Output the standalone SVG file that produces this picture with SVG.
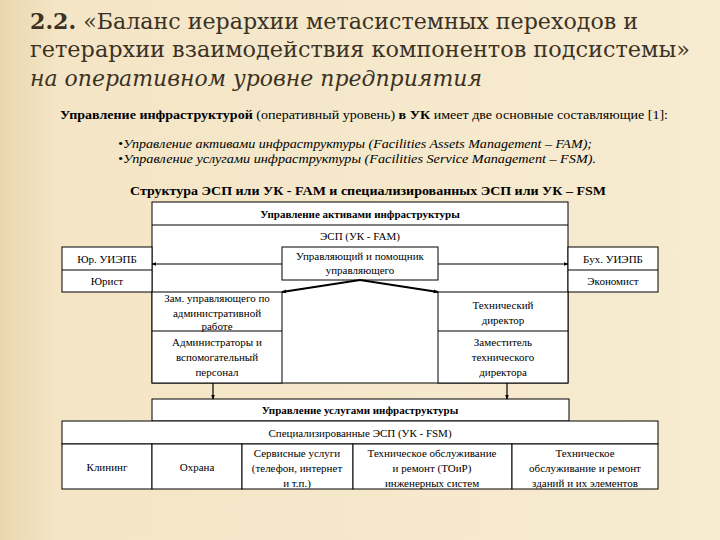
<svg xmlns="http://www.w3.org/2000/svg" width="720" height="540" viewBox="0 0 720 540">
<defs>
<linearGradient id="bg" x1="0" y1="0" x2="1" y2="0">
<stop offset="0" stop-color="#ead7b0"/>
<stop offset="0.08" stop-color="#f4e5c6"/>
<stop offset="1" stop-color="#f7ebd0"/>
</linearGradient>
<marker id="ah" viewBox="0 0 8 8" refX="7" refY="4" markerWidth="5" markerHeight="5" orient="auto" markerUnits="userSpaceOnUse">
<path d="M0,1 L8,4 L0,7 Z" fill="#000"/>
</marker>
<style>
.ttl{font-family:"DejaVu Serif",serif;font-size:22px;fill:#3b3224}
.intro{font-family:"Liberation Serif",serif;font-size:13px;fill:#000}
.t{font-family:"Liberation Serif",serif;font-size:11px;fill:#000;text-anchor:middle}
.b{font-weight:bold}
.box{fill:#fff;stroke:#000;stroke-width:1}
.ln{stroke:#000;stroke-width:1;fill:none}
.conn{stroke:#000;stroke-width:1.2;fill:none;marker-end:url(#ah)}
.thick{stroke:#000;stroke-width:2;fill:none;marker-end:url(#ah)}
</style>
</defs>
<rect x="0" y="0" width="720" height="540" fill="url(#bg)"/>

<g id="title">
<text class="ttl" x="30" y="29" textLength="608" lengthAdjust="spacingAndGlyphs"><tspan font-weight="bold">2.2.</tspan> «Баланс иерархии метасистемных переходов и</text>
<text class="ttl" x="30" y="57" textLength="660" lengthAdjust="spacingAndGlyphs">гетерархии взаимодействия компонентов подсистемы»</text>
<text class="ttl" x="30" y="86" font-style="italic" textLength="452" lengthAdjust="spacingAndGlyphs">на оперативном уровне предприятия</text>
</g>

<g id="intro">
<text class="intro" x="60" y="119" textLength="608" lengthAdjust="spacingAndGlyphs"><tspan font-weight="bold">Управление инфраструктурой</tspan> (оперативный уровень) <tspan font-weight="bold">в УК</tspan> имеет две основные составляющие [1]:</text>
<text class="intro" x="118" y="148" font-style="italic" textLength="474" lengthAdjust="spacingAndGlyphs">•Управление активами инфраструктуры (Facilities Assets Management – FAM);</text>
<text class="intro" x="118" y="163" font-style="italic" textLength="478" lengthAdjust="spacingAndGlyphs">•Управление услугами инфраструктуры (Facilities Service Management – FSM).</text>
<text class="intro b" x="130" y="195" textLength="476" lengthAdjust="spacingAndGlyphs">Структура ЭСП или УК - FAM и специализированных ЭСП или УК – FSM</text>
</g>

<g id="fam">
<rect class="box" x="152" y="202" width="416" height="181"/>
<line class="ln" x1="152" y1="225" x2="568" y2="225"/>
<text class="t b" x="360" y="218" font-size="12">Управление активами инфраструктуры</text>
<text class="t" x="360" y="240">ЭСП (УК - FAM)</text>
</g>

<g id="manager">
<rect class="box" x="282" y="247" width="156" height="33"/>
<text class="t" x="360" y="260">Управляющий и помощник</text>
<text class="t" x="360" y="274">управляющего</text>
</g>

<g id="legal">
<rect class="box" x="62" y="247" width="90" height="45"/>
<line class="ln" x1="62" y1="270" x2="152" y2="270"/>
<text class="t" x="107" y="263">Юр. УИЭПБ</text>
<text class="t" x="107" y="285" font-size="10.5">Юрист</text>
</g>

<g id="accounting">
<rect class="box" x="568" y="247" width="90" height="45"/>
<line class="ln" x1="568" y1="270" x2="658" y2="270"/>
<text class="t" x="613" y="263">Бух. УИЭПБ</text>
<text class="t" x="613" y="285" font-size="10.5">Экономист</text>
</g>

<g id="admin">
<rect class="box" x="152" y="292" width="130" height="91"/>
<line class="ln" x1="152" y1="331" x2="282" y2="331"/>
<text class="t" x="217" y="302">Зам. управляющего по</text>
<text class="t" x="217" y="317">административной</text>
<text class="t" x="217" y="330">работе</text>
<text class="t" x="217" y="346">Администраторы и</text>
<text class="t" x="217" y="361">вспомогательный</text>
<text class="t" x="217" y="376">персонал</text>
</g>

<g id="tech">
<rect class="box" x="438" y="292" width="130" height="91"/>
<line class="ln" x1="438" y1="331" x2="568" y2="331"/>
<text class="t" x="503" y="309">Технический</text>
<text class="t" x="503" y="324">директор</text>
<text class="t" x="503" y="346">Заместитель</text>
<text class="t" x="503" y="361">технического</text>
<text class="t" x="503" y="376">директора</text>
</g>

<g id="fsm">
<rect class="box" x="152" y="399" width="417" height="22"/>
<text class="t b" x="360" y="414">Управление услугами инфраструктуры</text>
<rect class="box" x="62" y="421" width="596" height="23"/>
<text class="t" x="360" y="437">Специализированные ЭСП (УК - FSM)</text>
</g>

<g id="cleaning">
<rect class="box" x="62" y="444" width="90" height="45"/>
<text class="t" x="107" y="471">Клининг</text>
</g>
<g id="security">
<rect class="box" x="152" y="444" width="90" height="45"/>
<text class="t" x="197" y="471">Охрана</text>
</g>
<g id="services">
<rect class="box" x="242" y="444" width="111" height="45"/>
<text class="t" x="297" y="457">Сервисные услуги</text>
<text class="t" x="297" y="472">(телефон, интернет</text>
<text class="t" x="297" y="487">и т.п.)</text>
</g>
<g id="engineering">
<rect class="box" x="353" y="444" width="159" height="45"/>
<text class="t" x="432" y="457">Техническое обслуживание</text>
<text class="t" x="432" y="472">и ремонт (ТОиР)</text>
<text class="t" x="432" y="487">инженерных систем</text>
</g>
<g id="buildings">
<rect class="box" x="512" y="444" width="146" height="45"/>
<text class="t" x="585" y="457">Техническое</text>
<text class="t" x="585" y="472">обслуживание и ремонт</text>
<text class="t" x="585" y="487">зданий и их элементов</text>
</g>

<g id="connectors">
<line class="conn" x1="282" y1="264" x2="152" y2="264"/>
<line class="conn" x1="438" y1="264" x2="568" y2="264"/>
<line class="thick" x1="360" y1="280" x2="282" y2="292"/>
<line class="thick" x1="360" y1="280" x2="438" y2="292"/>
<line class="conn" x1="213" y1="383" x2="213" y2="399"/>
<line class="conn" x1="507" y1="383" x2="507" y2="399"/>
</g>
</svg>
